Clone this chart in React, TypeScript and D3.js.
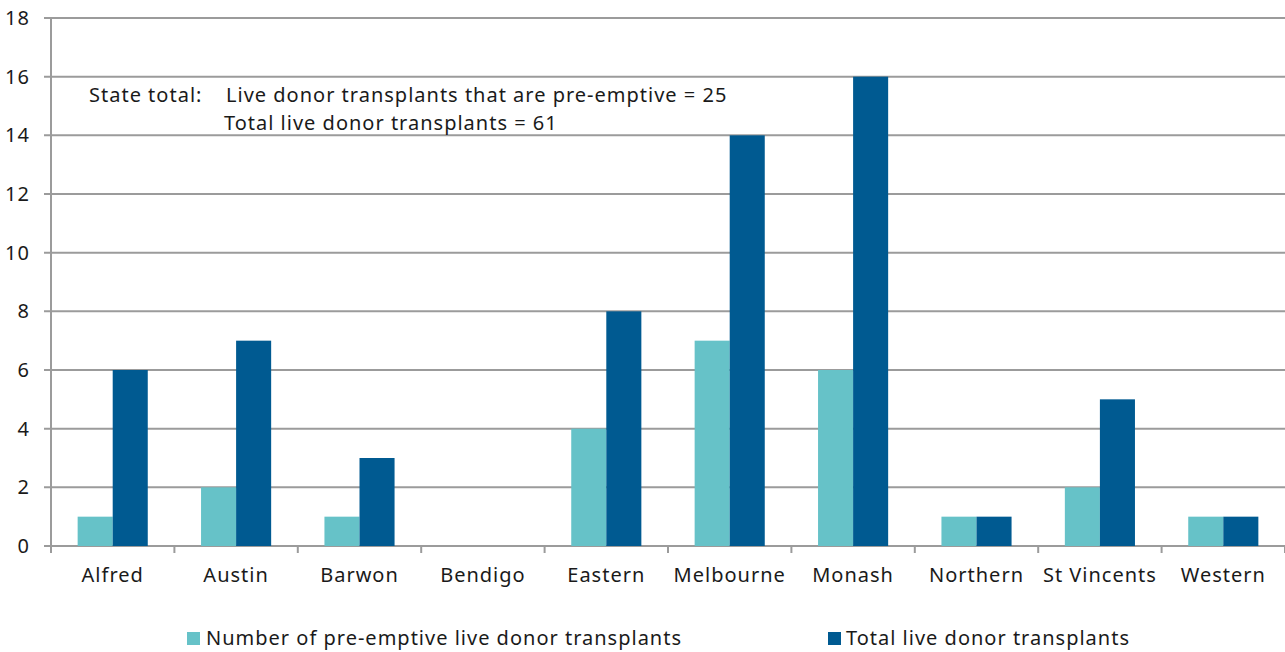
import React from "react";
import * as d3 from "d3";

const categories = ["Alfred", "Austin", "Barwon", "Bendigo", "Eastern", "Melbourne", "Monash", "Northern", "St Vincents", "Western"];
const preEmptive = [1, 2, 1, 0, 4, 7, 6, 1, 2, 1];
const totalLive = [6, 7, 3, 0, 8, 14, 16, 1, 5, 1];
const yTicks = [0, 2, 4, 6, 8, 10, 12, 14, 16, 18];
const seriesNames = ["Number of pre-emptive live donor transplants", "Total live donor transplants"];
const colors = ["#66C2C8", "#005A91"];

const W = 1285, H = 652;
const M = { left: 51, right: 1285, top: 18, bottom: 546 };
const FONT = "'Noto Sans', sans-serif";
const LS = 1.0;
const FS = 20;

export default function App() {
  const x = d3.scaleBand<string>().domain(categories).range([M.left, M.right]).paddingInner(0).paddingOuter(0);
  const inner = d3.scaleBand<number>().domain([0, 1]).range([0, x.bandwidth()]).paddingInner(0).paddingOuter(0.76);
  const y = d3.scaleLinear().domain([0, 18]).range([M.bottom, M.top]);
  const series = [preEmptive, totalLive];
  const tickXs = d3.range(categories.length + 1).map(i => M.left + i * x.step());
  return (
    <svg width={W} height={H} style={{ position: "absolute", left: 0, top: 0, fontFamily: FONT, letterSpacing: LS }}>
      <rect width={W} height={H} fill="#fff" />
      {yTicks.map(t => (
        <g key={t}>
          <line x1={M.left - 7} x2={M.right} y1={y(t)} y2={y(t)} stroke="#9b9b9b" strokeWidth={2} />
          <text x={M.left - 21} y={y(t)} dy="0.35em" textAnchor="end" fontSize={FS} fill="#1a1a1a">{t}</text>
        </g>
      ))}
      <line x1={M.left} x2={M.left} y1={M.top} y2={M.bottom} stroke="#9b9b9b" strokeWidth={2} />
      {tickXs.map((tx, i) => (
        <line key={i} x1={tx} x2={tx} y1={M.bottom} y2={M.bottom + 7} stroke="#9b9b9b" strokeWidth={2} />
      ))}
      {categories.map((c, i) => (
        <g key={c}>
          {series.map((s, j) => s[i] > 0 ? (
            <rect key={j} x={(x(c) as number) + (inner(j) as number)} width={inner.bandwidth()} y={y(s[i])} height={y(0) - y(s[i])} fill={colors[j]} />
          ) : null)}
          <text x={(x(c) as number) + x.bandwidth() / 2} y={582} textAnchor="middle" fontSize={FS} fill="#1a1a1a">{c}</text>
        </g>
      ))}
      <text x={89} y={102} fontSize={FS} fill="#1a1a1a">State total:</text>
      <text x={226} y={102} fontSize={FS} fill="#1a1a1a">Live donor transplants that are pre-emptive = 25</text>
      <text x={224} y={130} fontSize={FS} fill="#1a1a1a">Total live donor transplants = 61</text>
      <rect x={187} y={632} width={13} height={13} fill={colors[0]} />
      <text x={206} y={645} fontSize={FS} fill="#1a1a1a">{seriesNames[0]}</text>
      <rect x={828} y={632} width={13} height={13} fill={colors[1]} />
      <text x={846} y={645} fontSize={FS} fill="#1a1a1a">{seriesNames[1]}</text>
    </svg>
  );
}
